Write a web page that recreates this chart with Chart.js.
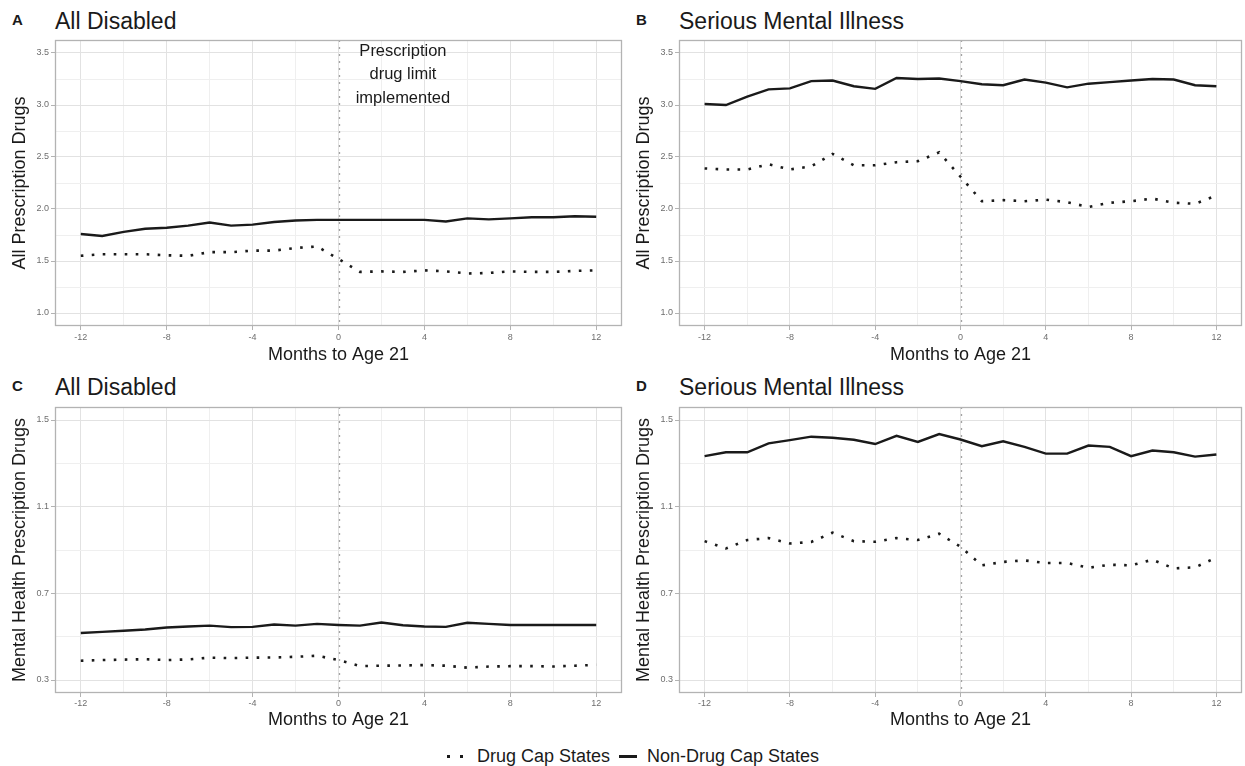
<!DOCTYPE html>
<html>
<head>
<meta charset="utf-8">
<title>Prescription drugs around age 21</title>
<script src="https://cdn.jsdelivr.net/npm/chart.js@4.4.1/dist/chart.umd.min.js"></script>
<style>
  body { margin: 0; background: #fff; width: 1245px; height: 766px; position: relative; overflow: hidden;
         font-family: 'Liberation Sans', Arial, Helvetica, sans-serif; color: #1a1a1a; }
  canvas { position: absolute; }
  .tag { position: absolute; font-size: 15px; line-height: 15px; font-weight: bold; }
  .ttl { position: absolute; font-size: 23px; line-height: 23px; white-space: nowrap; }
  .lg  { position: absolute; top: 747px; font-size: 18px; line-height: 18px; white-space: nowrap; }
  .dot { position: absolute; top: 755px; width: 3px; height: 3px; background: #1a1a1a; }
  .bar { position: absolute; top: 755px; width: 18px; height: 3px; background: #1a1a1a; }
</style>
</head>
<body>

<div class="tag" style="left:12px;top:12px">A</div>
<div class="ttl" style="left:55px;top:9.5px">All Disabled</div>
<div class="tag" style="left:636px;top:12px">B</div>
<div class="ttl" style="left:679px;top:9.5px">Serious Mental Illness</div>
<div class="tag" style="left:12px;top:378px">C</div>
<div class="ttl" style="left:55px;top:376px">All Disabled</div>
<div class="tag" style="left:636px;top:378px">D</div>
<div class="ttl" style="left:679px;top:376px">Serious Mental Illness</div>

<canvas id="panelA" width="624" height="340" style="left:0;top:30px"></canvas>
<canvas id="panelB" width="621" height="340" style="left:624px;top:30px"></canvas>
<canvas id="panelC" width="624" height="338" style="left:0;top:397px"></canvas>
<canvas id="panelD" width="621" height="338" style="left:624px;top:397px"></canvas>

<span class="dot" style="left:447px"></span>
<span class="dot" style="left:460px"></span>
<span class="lg" id="lgCap" style="left:477px"></span>
<span class="bar" style="left:619px"></span>
<span class="lg" id="lgNonCap" style="left:647px"></span>

<script>
// ── data ──
const months = [-12, -11, -10, -9, -8, -7, -6, -5, -4, -3, -2, -1, 0, 1, 2, 3, 4, 5, 6, 7, 8, 9, 10, 11, 12];
const xMajor = [-12, -8, -4, 0, 4, 8, 12];
const xMinor = [-10, -6, -2, 2, 6, 10];
const yMajorAll = [1.0, 1.5, 2.0, 2.5, 3.0, 3.5];
const yMinorAll = [1.25, 1.75, 2.25, 2.75, 3.25];
const yMajorMH = [0.3, 0.7, 1.1, 1.5];
const yMinorMH = [0.5, 0.9, 1.3];
const seriesNames = ['Drug Cap States', 'Non-Drug Cap States'];
const xTitle = 'Months to Age 21';
const yTitleAll = 'All Prescription Drugs';
const yTitleMH = 'Mental Health Prescription Drugs';
const noteLines = ['Prescription', 'drug limit', 'implemented'];
const noteAt = [3, 3.29];   // month, value
const capStart = 0;         // month the limit starts

// A: all disabled, all prescription drugs
const capA    = [1.55, 1.565, 1.565, 1.565, 1.555, 1.55, 1.585, 1.585, 1.60, 1.60, 1.625, 1.64, 1.52,
                 1.395, 1.40, 1.395, 1.41, 1.40, 1.38, 1.385, 1.40, 1.395, 1.395, 1.405, 1.41];
const nonCapA = [1.76, 1.74, 1.78, 1.81, 1.82, 1.84, 1.87, 1.84, 1.85, 1.875, 1.89, 1.895, 1.895,
                 1.895, 1.895, 1.895, 1.895, 1.88, 1.91, 1.90, 1.91, 1.92, 1.92, 1.93, 1.925];
// B: serious mental illness, all prescription drugs
const capB    = [2.39, 2.38, 2.38, 2.43, 2.38, 2.41, 2.53, 2.42, 2.42, 2.45, 2.46, 2.545, 2.31,
                 2.075, 2.085, 2.075, 2.09, 2.065, 2.02, 2.06, 2.075, 2.10, 2.06, 2.05, 2.13];
const nonCapB = [3.01, 3.00, 3.08, 3.15, 3.16, 3.23, 3.235, 3.18, 3.155, 3.26, 3.25, 3.255, 3.23,
                 3.20, 3.19, 3.245, 3.215, 3.17, 3.205, 3.22, 3.235, 3.25, 3.245, 3.19, 3.18];
// C: all disabled, mental health drugs
const capC    = [0.389, 0.392, 0.394, 0.396, 0.392, 0.395, 0.403, 0.401, 0.403, 0.404, 0.407, 0.412, 0.392,
                 0.364, 0.366, 0.367, 0.369, 0.366, 0.357, 0.362, 0.364, 0.364, 0.362, 0.366, 0.370];
const nonCapC = [0.517, 0.522, 0.527, 0.533, 0.542, 0.547, 0.551, 0.544, 0.545, 0.556, 0.551, 0.559, 0.554,
                 0.551, 0.565, 0.553, 0.547, 0.545, 0.564, 0.559, 0.554, 0.554, 0.554, 0.554, 0.554];
// D: serious mental illness, mental health drugs
const capD    = [0.941, 0.907, 0.946, 0.955, 0.930, 0.937, 0.980, 0.941, 0.938, 0.955, 0.946, 0.975, 0.915,
                 0.829, 0.845, 0.852, 0.840, 0.840, 0.818, 0.832, 0.829, 0.855, 0.815, 0.820, 0.865];
const nonCapD = [1.333, 1.351, 1.351, 1.392, 1.407, 1.423, 1.418, 1.409, 1.389, 1.427, 1.399, 1.435, 1.41,
                 1.379, 1.402, 1.376, 1.345, 1.345, 1.382, 1.376, 1.333, 1.359, 1.351, 1.331, 1.341];

document.getElementById('lgCap').textContent = seriesNames[0];
document.getElementById('lgNonCap').textContent = seriesNames[1];

// ── look ──
const FONT = "'Liberation Sans', Arial, Helvetica, sans-serif";
Chart.defaults.font.family = FONT;
const INK = '#1a1a1a';
const GRID_MAJOR = '#e2e2e2';
const GRID_MINOR = '#efefef';
const FRAME = '#b3b3b3';

const pts = vals => months.map((m, i) => ({ x: m, y: vals[i] }));

// frame + dotted reference line at month 0 (+ optional note)
const panelDecor = {
  id: 'panelDecor',
  beforeDatasetsDraw(chart) {
    const { ctx, chartArea: a, scales: { x } } = chart;
    const px = Math.round(x.getPixelForValue(capStart)) + 0.5;
    ctx.save();
    ctx.strokeStyle = '#a3a3a3';
    ctx.lineWidth = 1.3;
    ctx.setLineDash([2, 5]);
    ctx.beginPath();
    ctx.moveTo(px, a.top);
    ctx.lineTo(px, a.bottom);
    ctx.stroke();
    ctx.restore();
  },
  afterDatasetsDraw(chart, args, opts) {
    const { ctx, chartArea: a, scales: { x, y } } = chart;
    ctx.save();
    if (opts.note) {
      const cx = x.getPixelForValue(noteAt[0]);
      const cy = y.getPixelForValue(noteAt[1]);
      ctx.fillStyle = INK;
      ctx.font = '16.5px ' + FONT;
      ctx.textAlign = 'center';
      ctx.textBaseline = 'middle';
      noteLines.forEach((t, i) => ctx.fillText(t, cx, cy + (i - 1) * 23.5));
    }
    ctx.strokeStyle = FRAME;
    ctx.lineWidth = 1.3;
    ctx.strokeRect(a.left + 0.5, a.top + 0.5, a.right - a.left - 1, a.bottom - a.top - 1);
    ctx.restore();
  }
};

function makePanel(id, cap, nonCap, o) {
  const yTicks = o.yMajor.concat(o.yMinor).sort((p, q) => p - q);
  const xTicks = xMajor.concat(xMinor).sort((p, q) => p - q);
  return new Chart(document.getElementById(id), {
    type: 'line',
    data: {
      datasets: [
        { label: seriesNames[0], data: pts(cap), borderColor: INK, borderWidth: 2.6,
          borderDash: [2.6, 8.4], borderCapStyle: 'butt', pointRadius: 0, tension: 0 },
        { label: seriesNames[1], data: pts(nonCap), borderColor: INK, borderWidth: 2.4,
          pointRadius: 0, tension: 0 }
      ]
    },
    options: {
      responsive: false,
      animation: false,
      events: [],
      layout: { padding: { top: 10, right: o.padRight, left: 0, bottom: 0 } },
      plugins: { legend: { display: false }, tooltip: { enabled: false }, panelDecor: { note: o.note } },
      scales: {
        x: {
          type: 'linear', min: -13.2, max: 13.2,
          afterBuildTicks: s => { s.ticks = xTicks.map(v => ({ value: v })); },
          afterFit: s => { s.height = o.xHeight; },
          ticks: { autoSkip: false, maxRotation: 0, padding: o.xPad, color: '#6e6e6e', font: { size: 9 },
                   callback: v => xMinor.includes(v) ? '' : String(v) },
          grid: { color: c => xMinor.includes(c.tick.value) ? GRID_MINOR : GRID_MAJOR,
                  lineWidth: 1, tickLength: 4,
                  tickColor: c => xMinor.includes(c.tick.value) ? 'rgba(0,0,0,0)' : FRAME },
          border: { display: false },
          title: { display: true, text: xTitle, color: INK, font: { size: 18 }, padding: { top: 0, bottom: 4.2 } }
        },
        y: {
          type: 'linear', min: o.yMin, max: o.yMax,
          afterBuildTicks: s => { s.ticks = yTicks.map(v => ({ value: v })); },
          afterFit: s => { s.width = 55; },
          ticks: { autoSkip: false, padding: 2, color: '#6e6e6e', font: { size: 9 },
                   callback: v => o.yMinor.includes(v) ? '' : v.toFixed(1) },
          grid: { color: c => o.yMinor.includes(c.tick.value) ? GRID_MINOR : GRID_MAJOR,
                  lineWidth: 1, tickLength: 4,
                  tickColor: c => o.yMinor.includes(c.tick.value) ? 'rgba(0,0,0,0)' : FRAME },
          border: { display: false },
          title: { display: true, text: o.yTitle, color: INK, font: { size: 18 }, padding: { top: 9.7, bottom: 0 } }
        }
      }
    },
    plugins: [panelDecor]
  });
}

const topRow = { yMajor: yMajorAll, yMinor: yMinorAll, yMin: 0.875, yMax: 3.625, yTitle: yTitleAll, xHeight: 44, xPad: 2 };
const botRow = { yMajor: yMajorMH, yMinor: yMinorMH, yMin: 0.24, yMax: 1.56, yTitle: yTitleMH, xHeight: 42, xPad: 1 };

makePanel('panelA', capA, nonCapA, { ...topRow, padRight: 2, note: true });
makePanel('panelB', capB, nonCapB, { ...topRow, padRight: 3, note: false });
makePanel('panelC', capC, nonCapC, { ...botRow, padRight: 2, note: false });
makePanel('panelD', capD, nonCapD, { ...botRow, padRight: 3, note: false });
</script>
</body>
</html>
